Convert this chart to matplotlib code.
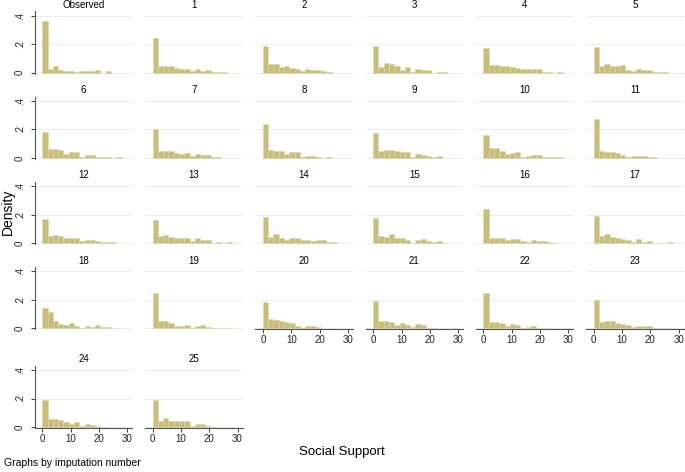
import numpy as np
import matplotlib
matplotlib.use("Agg")
import matplotlib.pyplot as plt

plt.rcParams['font.family'] = ['Liberation Sans', 'DejaVu Sans']

# panel titles, in reading order
titles = ["Observed"] + [str(i) for i in range(1, 26)]

# density of each bin (bin width = 28/15)
dens = [
    [0.36, 0.025, 0.048, 0.018, 0.012, 0.012, 0.007, 0.012, 0.012, 0.012, 0.016, 0, 0.009],
    [0.24, 0.05, 0.045, 0.045, 0.03, 0.028, 0.028, 0.01, 0.025, 0.012, 0.016, 0.007, 0.005, 0.004],
    [0.184, 0.058, 0.06, 0.041, 0.046, 0.032, 0.028, 0.014, 0.025, 0.016, 0.016, 0.012, 0.007],
    [0.184, 0.041, 0.067, 0.06, 0.05, 0.021, 0.039, 0.007, 0.025, 0.016, 0.016, 0, 0.007, 0.007],
    [0.173, 0.053, 0.053, 0.05, 0.045, 0.04, 0.033, 0.025, 0.025, 0.025, 0.025, 0.007, 0.007, 0, 0.007],
    [0.18, 0.05, 0.062, 0.044, 0.048, 0.053, 0.021, 0.009, 0.025, 0.016, 0.018, 0.007, 0.007, 0.005],
    [0.18, 0.063, 0.063, 0.056, 0.026, 0.042, 0.042, 0.003, 0.019, 0.019, 0.009, 0.003, 0.003, 0, 0.004],
    [0.2, 0.047, 0.049, 0.049, 0.033, 0.028, 0.033, 0.016, 0.026, 0.023, 0.021, 0.003, 0.003],
    [0.24, 0.054, 0.051, 0.049, 0.026, 0.04, 0.042, 0.003, 0.012, 0.014, 0.005, 0, 0.007],
    [0.175, 0.047, 0.054, 0.058, 0.047, 0.042, 0.04, 0.007, 0.026, 0.021, 0.012, 0.005, 0.012],
    [0.163, 0.072, 0.072, 0.049, 0.026, 0.035, 0.04, 0.007, 0.014, 0.021, 0.021, 0.005, 0.003, 0.003, 0.003],
    [0.27, 0.049, 0.042, 0.042, 0.037, 0.023, 0.009, 0.016, 0.016, 0.016, 0.003, 0.003],
    [0.172, 0.047, 0.06, 0.049, 0.033, 0.033, 0.033, 0.012, 0.021, 0.019, 0.016, 0.007, 0.007, 0.005],
    [0.163, 0.047, 0.056, 0.044, 0.035, 0.033, 0.033, 0.014, 0.037, 0.021, 0.021, 0.003, 0.007, 0, 0.005],
    [0.18, 0.042, 0.065, 0.035, 0.021, 0.033, 0.037, 0.019, 0.019, 0.012, 0.019, 0.019, 0.007, 0.005],
    [0.177, 0.051, 0.044, 0.063, 0.035, 0.035, 0.021, 0.003, 0.019, 0.028, 0.012, 0.009, 0.014, 0.003],
    [0.24, 0.037, 0.037, 0.035, 0.021, 0.026, 0.028, 0.014, 0.007, 0.021, 0.014, 0.012, 0.005, 0.002],
    [0.189, 0.049, 0.063, 0.044, 0.033, 0.026, 0.019, 0.005, 0.028, 0.005, 0.016, 0.002, 0.002, 0, 0.005],
    [0.14, 0.114, 0.054, 0.028, 0.026, 0.035, 0.019, 0.002, 0.016, 0.007, 0.021, 0.012, 0.007, 0.005],
    [0.246, 0.05, 0.05, 0.04, 0.016, 0.016, 0.024, 0.003, 0.014, 0.026, 0.007, 0.002, 0.002, 0, 0.003],
    [0.182, 0.064, 0.057, 0.052, 0.045, 0.035, 0.019, 0.003, 0.017, 0.017, 0.012],
    [0.194, 0.05, 0.05, 0.047, 0.026, 0.038, 0.026, 0.007, 0.031, 0.021, 0.003, 0.002],
    [0.248, 0.047, 0.047, 0.038, 0.017, 0.031, 0.021, 0.005, 0.012, 0.014, 0.002, 0.002],
    [0.2, 0.043, 0.054, 0.05, 0.038, 0.033, 0.024, 0.012, 0.017, 0.017, 0.014, 0.002, 0.002, 0.002],
    [0.19, 0.055, 0.055, 0.05, 0.035, 0.02, 0.035, 0.005, 0.02, 0.015, 0.005, 0.002],
    [0.19, 0.04, 0.06, 0.045, 0.04, 0.04, 0.04, 0.005, 0.02, 0.02, 0.005, 0.002],
]

bin_w = 28 / 15
xticks = [0, 10, 20, 30]
yticks = [0, 0.2, 0.4]
ylabels = ["0", ".2", ".4"]

W, H = 685, 472
fig = plt.figure(figsize=(W / 100, H / 100), dpi=100)

bar_col = "#c8bd7a"
grid_col = "#e6eeee"
xlim = (-2.7, 31.8)
ylim = (-0.006, 0.43)
px_x = 2.83
px_y = 142.5

for i, (t, d) in enumerate(zip(titles, dens)):
    r, c = divmod(i, 6)
    x0 = 42.3 + 110.3 * c
    yb = 72.7 + 85.2 * r if r < 4 else 427
    left = x0 + xlim[0] * px_x
    width = (xlim[1] - xlim[0]) * px_x
    bottom = yb - ylim[0] * px_y
    height = (ylim[1] - ylim[0]) * px_y
    ax = fig.add_axes([left / W, 1 - bottom / H, width / W, height / H])
    ax.set_xlim(*xlim)
    ax.set_ylim(*ylim)
    for yv in yticks:
        ax.axhline(yv, color=grid_col, lw=0.7, zorder=0)
    edges = np.arange(len(d)) * bin_w
    ax.bar(edges, d, width=bin_w, align="edge", color=bar_col,
           edgecolor="#ddd6a8", linewidth=0.4, zorder=2)
    ax.set_title(t, fontsize=7, pad=2.5)
    for s in ["top", "right"]:
        ax.spines[s].set_visible(False)
    ax.spines["left"].set_color("#555555")
    ax.spines["bottom"].set_color("#555555")
    ax.spines["left"].set_linewidth(0.8)
    ax.spines["bottom"].set_linewidth(0.8)
    # y axis only on the first column
    if c == 0:
        ax.set_yticks(yticks)
        ax.set_yticklabels(ylabels, rotation=90, va="center", fontsize=7)
        ax.tick_params(axis="y", length=3, width=0.6, pad=4, colors="#222222")
    else:
        ax.spines["left"].set_visible(False)
        ax.set_yticks([])
    # x axis on the bottom panel of each column
    if i + 6 >= len(titles):
        ax.set_xticks(xticks)
        ax.set_xticklabels([str(v) for v in xticks], fontsize=7)
        ax.tick_params(axis="x", length=3, width=0.6, pad=1.5, colors="#222222")
    else:
        ax.spines["bottom"].set_visible(False)
        ax.set_xticks([])

fig.text(8 / W, 1 - 212 / H, "Density", rotation=90, ha="center", va="center", fontsize=10)
fig.text(342 / W, 1 - 452 / H, "Social Support", ha="center", va="center", fontsize=9.5)
fig.text(4 / W, 1 - 463 / H, "Graphs by imputation number", ha="left", va="center", fontsize=7.5)

fig.savefig("out.png", dpi=100)
